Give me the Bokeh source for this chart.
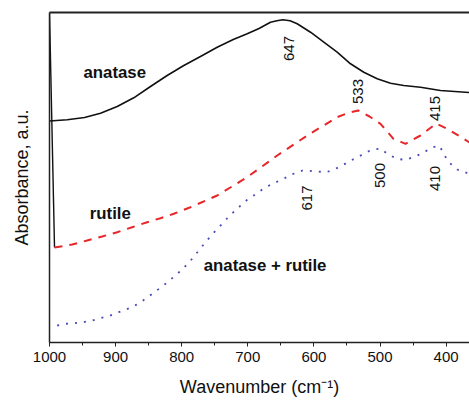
import math
from bokeh.plotting import figure
from bokeh.models import Range1d, LinearAxis, SingleIntervalTicker, FixedTicker
from bokeh.core.properties import value
from bokeh.embed import file_html
from bokeh.resources import INLINE

# UV-vis diffuse reflectance spectra of TiO2 phases (arbitrary absorbance units)
anatase_wn = [1000, 973.2, 947.0, 922.8, 897.6, 872.5, 847.2, 822.0, 796.8, 771.6,
              746.3, 722.0, 700.9, 683.0, 665.7, 656.0, 647, 636.0, 625.3, 605.1,
              585.0, 564.8, 544.6, 524.5, 504.2, 484.1, 464.0, 438.7, 408.5, 364.6]
anatase_abs = [221.5, 222.7, 225.0, 229.3, 236, 244.7, 256, 267, 277, 286,
               295.3, 303.0, 308.7, 314.0, 320.3, 321.8, 322.7, 321.7, 318.7, 310.3,
               300.3, 290.3, 278.7, 270.3, 263.7, 259.3, 257, 255.3, 252, 250]

rutile_edge_wn = [1000, 992.4]
rutile_edge_abs = [330, 95]

rutile_wn = [992.4, 965.7, 943.0, 920.3, 897.6, 874.9, 852.2, 832.1, 812.0, 786.7,
             746.3, 700.9, 655.5, 610.1, 564.8, 548.4, 533, 515.9, 499.2, 479.6,
             461.4, 438.7, 415, 398.4, 373.2, 364.6]
rutile_abs = [95, 98, 102, 106, 110.3, 115.3, 120.3, 124.3, 128.7, 135.3,
              147, 165.3, 187, 207, 225.3, 229.5, 232, 226, 218.7, 203.7,
              198.7, 207, 219, 213.7, 203.7, 200]

mixed_wn = [988.4, 975.8, 963.2, 949.0, 935.4, 922.8, 909.2, 895.2, 877.5, 864.3,
            851.3, 837.7, 824.5, 811.3, 797.7, 785.2, 774.1, 764.0, 752.3, 739.8,
            727.2, 713.6, 700.9, 687.3, 674.7, 660.7, 647.0, 633.9, 617, 607.7,
            595.0, 580.9, 567.3, 554.8, 541.6, 526.9, 514.4, 500, 488.7, 475.0,
            462.2, 449.3, 435.4, 421.8, 410, 397.1, 383.2, 369.1, 364.6]
mixed_abs = [17, 18.7, 19.3, 20.3, 22, 24.3, 26.7, 30.3, 34.7, 39.3,
             45.3, 52, 58.7, 66, 74, 83, 92, 100.3, 109.3, 118,
             127, 135.3, 142.7, 148.7, 154.7, 159.3, 163.3, 168, 172, 171.7,
             171, 170.3, 173.7, 178, 182.8, 187.8, 192.3, 194, 188.7, 183.7,
             182.7, 185.3, 189.3, 195, 196.7, 181, 173, 169.7, 169]

# band maxima marked on the spectra
peak_labels = ["647", "533", "415", "617", "500", "410"]
peak_wn = [647, 533, 415, 617, 500, 410]
peak_label_y = [294, 251, 234, 144.5, 167, 164]
peak_label_dx = [6, 0, -1, 4, 0, -4]

series_names = ["anatase", "rutile", "anatase + rutile"]
series_label_wn = [948.6, 939.0, 766.6]
series_label_y = [270, 129.3, 77]

font = "Liberation Sans"
axis_color = "#222222"

p = figure(width=469, height=401, output_backend="svg", toolbar_location=None,
           x_range=Range1d(1000, 364.6), y_range=Range1d(0, 330),
           min_border_left=49, min_border_right=0, min_border_top=12,
           min_border_bottom=59)
p.outline_line_color = None
p.xgrid.visible = False
p.ygrid.visible = False
p.background_fill_color = "white"
p.border_fill_color = "white"

# bottom axis
xa = p.xaxis[0]
xa.ticker = SingleIntervalTicker(interval=100, num_minor_ticks=2)
xa.axis_label = "Wavenumber (cm\u207b\u00b9)"
xa.axis_label_text_font = font
xa.axis_label_text_font_style = "normal"
xa.axis_label_text_font_size = "18px"
xa.axis_label_text_color = "#111111"
xa.axis_label_standoff = 12
xa.major_label_text_font = font
xa.major_label_text_font_size = "15px"
xa.major_label_text_color = "#111111"
xa.major_label_standoff = 5
xa.axis_line_color = axis_color
xa.axis_line_width = 1.5
xa.major_tick_line_color = axis_color
xa.minor_tick_line_color = axis_color
xa.major_tick_out = 4
xa.major_tick_in = 0
xa.minor_tick_out = 3
xa.minor_tick_in = 0

# left axis: line and title only
ya = p.yaxis[0]
ya.ticker = FixedTicker(ticks=[])
ya.axis_label = "Absorbance, a.u."
ya.axis_label_text_font = font
ya.axis_label_text_font_style = "normal"
ya.axis_label_text_font_size = "18px"
ya.axis_label_text_color = "#111111"
ya.axis_label_standoff = 18
ya.axis_line_color = axis_color
ya.axis_line_width = 1.5
ya.major_tick_out = 0
ya.minor_tick_out = 0

# top frame line
top = LinearAxis(ticker=FixedTicker(ticks=[]), axis_line_color=axis_color,
                 axis_line_width=1.8, major_tick_out=0, minor_tick_out=0,
                 major_label_text_font_size="0px")
p.add_layout(top, "above")

# spectra
p.line(anatase_wn, anatase_abs, line_color="#111111", line_width=1.6,
       line_join="round")
p.line(rutile_edge_wn, rutile_edge_abs, line_color="#111111", line_width=1.4)
p.line(rutile_wn, rutile_abs, line_color="#e8262a", line_width=2.0,
       line_dash="8 7")
p.line(mixed_wn, mixed_abs, line_color="#4a4ab8", line_width=1.8,
       line_dash="2 7")

# peak positions
for lab, wn, yy, dx in zip(peak_labels, peak_wn, peak_label_y, peak_label_dx):
    p.text(x=[wn], y=[yy], text=[lab], angle=math.pi / 2, x_offset=dx,
           text_align="center", text_baseline="middle",
           text_font=value(font), text_font_size="15px", text_color="#111111")

# series names
p.text(x=series_label_wn, y=series_label_y, text=series_names,
       text_align="left", text_baseline="middle",
       text_font=value(font), text_font_size="16.8px", text_font_style="bold",
       text_color="#111111")

open("out.html", "w").write(file_html(p, INLINE))
